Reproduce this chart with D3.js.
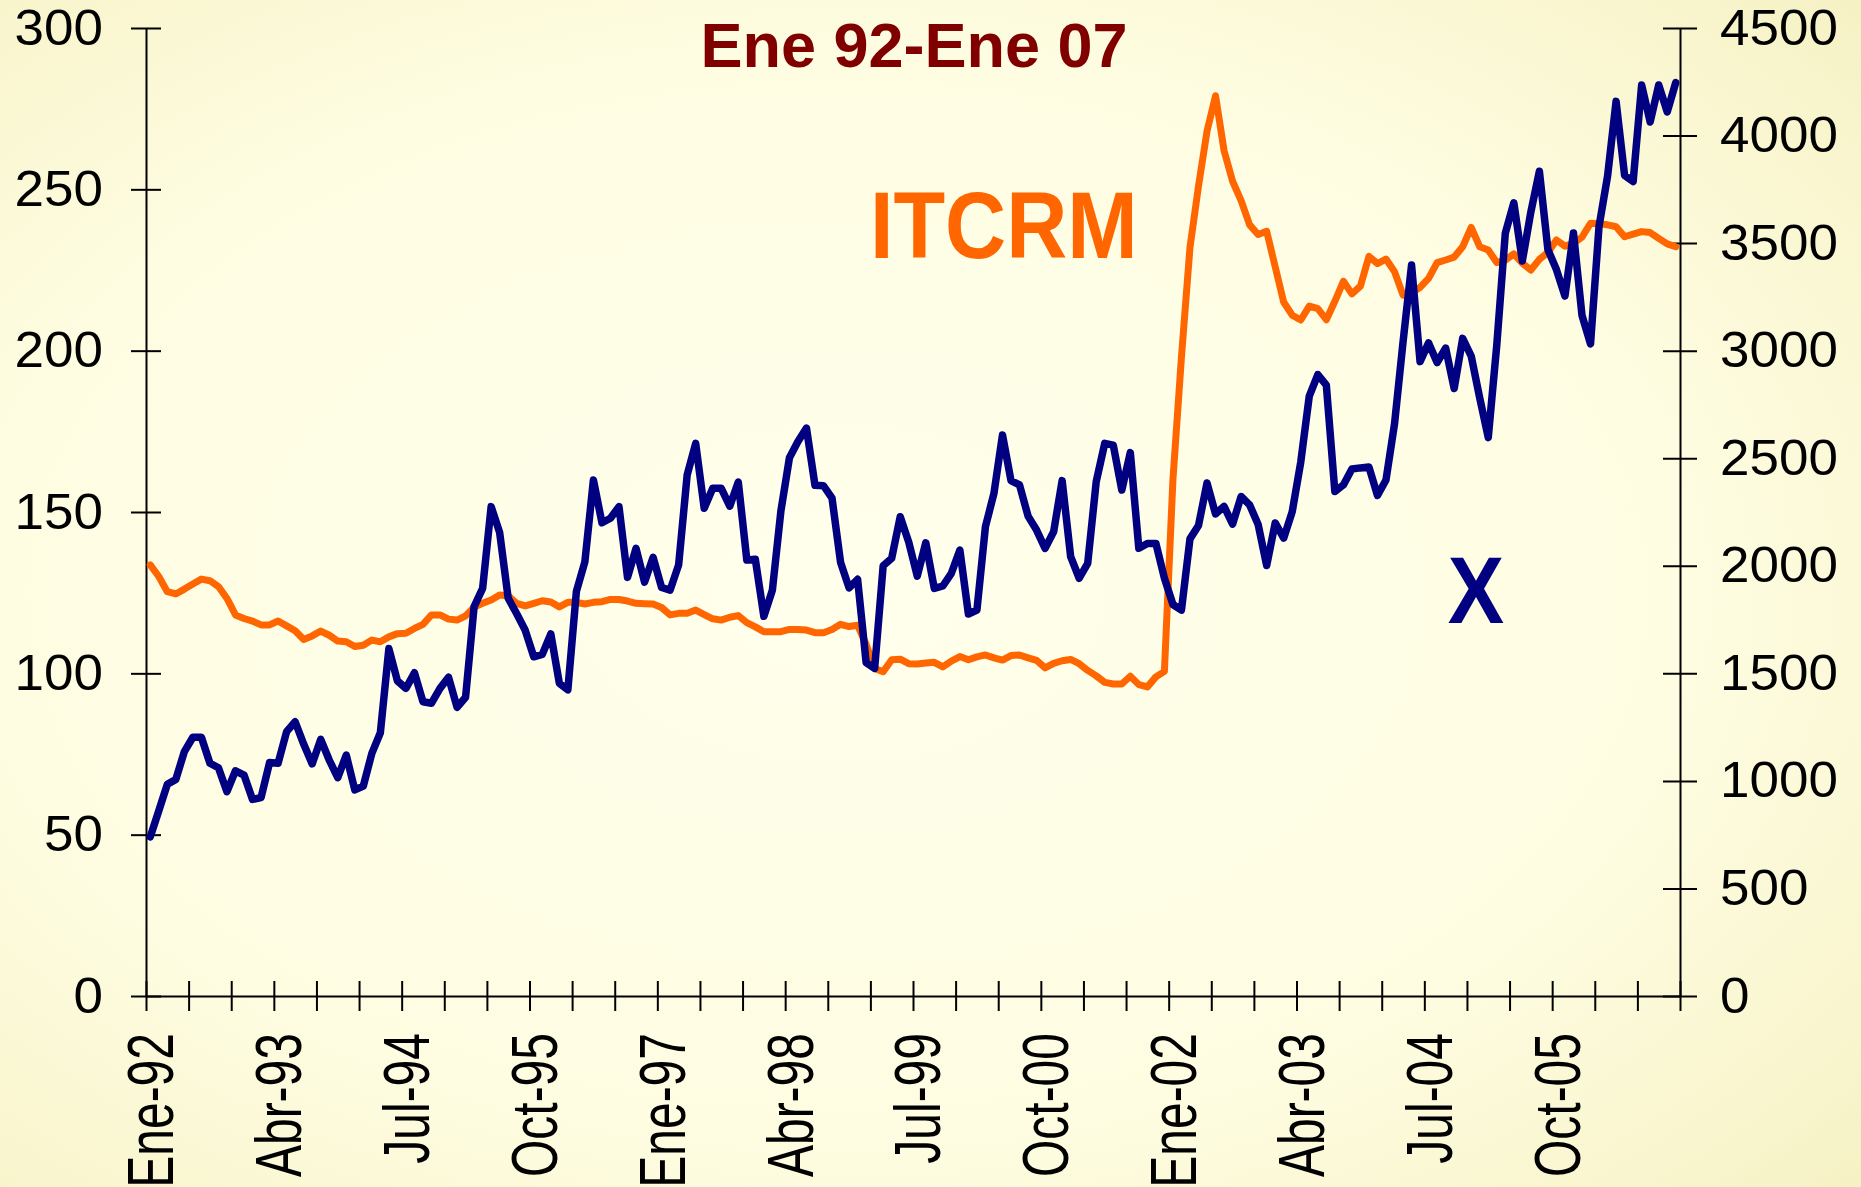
<!DOCTYPE html>
<html>
<head>
<meta charset="utf-8">
<script src="https://cdn.jsdelivr.net/npm/d3@7"></script>
<style>
  body { margin: 0; background: #fffff0; }
  svg { display: block; }
  text { font-family: "Liberation Sans", Arial, sans-serif; }
</style>
</head>
<body>
<svg id="chart"></svg>
<script>
// monthly data, Ene-92 .. Dic-06
const months = d3.timeMonth.range(new Date(1992, 0, 1), new Date(2007, 0, 1));

// ITCRM (left axis)
const itcrm = [
  133.6, 130.0, 125.3, 124.6, 126.1, 127.7, 129.2, 128.7, 126.9, 123.2,
  118.1, 117.0, 116.2, 115.0, 115.0, 116.2, 114.7, 113.2, 110.5, 111.6,
  113.1, 111.8, 110.0, 109.8, 108.3, 108.7, 110.3, 109.8, 111.3, 112.3,
  112.4, 113.9, 115.2, 118.1, 118.1, 116.8, 116.5, 117.8, 120.5, 121.7,
  122.7, 124.3, 124.0, 121.7, 120.9, 121.7, 122.5, 122.1, 120.6, 122.0,
  122.0, 121.5, 122.0, 122.2, 122.9, 122.9, 122.4, 121.7, 121.6, 121.5,
  120.4, 118.1, 118.6, 118.6, 119.6, 118.2, 116.9, 116.5, 117.4, 117.9,
  115.7, 114.4, 112.9, 112.9, 112.9, 113.6, 113.6, 113.4, 112.6, 112.6,
  113.6, 115.2, 114.5, 114.9, 109.0, 101.5, 100.5, 104.2, 104.4, 103.0,
  102.9, 103.2, 103.4, 102.0, 103.8, 105.2, 104.2, 105.1, 105.7, 104.8,
  104.1, 105.5, 105.7, 104.8, 104.0, 101.7, 103.1, 103.9, 104.3, 103.0,
  100.9, 99.2, 97.2, 96.7, 96.7, 99.1, 96.5, 95.8, 98.9, 100.6,
  160.0, 198.0, 232.0, 251.0, 268.0, 279.0, 262.0, 252.5, 246.5, 239.0,
  236.0, 237.0, 226.0, 215.0, 211.0, 209.5, 213.8, 213.0, 209.6, 215.3,
  221.5, 217.6, 220.0, 229.2, 227.0, 228.4, 224.5, 217.2, 218.0, 219.6,
  222.4, 227.3, 228.1, 229.0, 232.2, 238.2, 232.2, 231.2, 227.3, 228.0,
  230.0, 227.1, 225.0, 228.3, 230.4, 234.3, 232.4, 233.3, 235.2, 239.5,
  239.3, 239.0, 238.4, 235.3, 236.1, 236.9, 236.6, 234.8, 233.1, 232.2
];

// X (right axis)
const expo = [
  740, 861, 984, 1007, 1136, 1203, 1203, 1082, 1061, 950,
  1047, 1027, 914, 922, 1085, 1082, 1229, 1275, 1171, 1079,
  1193, 1097, 1015, 1120, 958, 976, 1128, 1224, 1615, 1465,
  1430, 1503, 1368, 1361, 1430, 1482, 1342, 1389, 1810, 1895,
  2275, 2154, 1849, 1777, 1700, 1577, 1588, 1683, 1454, 1423,
  1880, 2019, 2399, 2200, 2221, 2275, 1946, 2081, 1924, 2039,
  1899, 1887, 2004, 2422, 2569, 2267, 2360, 2360, 2277, 2389,
  2027, 2030, 1765, 1887, 2255, 2502, 2578, 2640, 2374, 2372,
  2314, 2016, 1897, 1937, 1550, 1523, 2000, 2035, 2228, 2110,
  1952, 2107, 1895, 1906, 1965, 2073, 1776, 1794, 2182, 2337,
  2608, 2396, 2376, 2231, 2166, 2081, 2158, 2396, 2042, 1942,
  2011, 2391, 2569, 2561, 2352, 2526, 2081, 2104, 2104, 1943,
  1820, 1794, 2125, 2187, 2385, 2241, 2276, 2194, 2322, 2283,
  2192, 2001, 2199, 2129, 2252, 2482, 2789, 2889, 2840, 2345,
  2376, 2450, 2455, 2459, 2327, 2399, 2659, 3040, 3398, 2949,
  3036, 2945, 3012, 2824, 3057, 2975, 2780, 2596, 3026, 3546,
  3687, 3417, 3645, 3834, 3470, 3377, 3254, 3547, 3164, 3031,
  3578, 3811, 4159, 3815, 3786, 4235, 4063, 4235, 4110, 4246
];

const xLabels = ["Ene-92", "Abr-93", "Jul-94", "Oct-95", "Ene-97", "Abr-98",
                 "Jul-99", "Oct-00", "Ene-02", "Abr-03", "Jul-04", "Oct-05"];
const leftTicks = [0, 50, 100, 150, 200, 250, 300];
const rightTicks = [0, 500, 1000, 1500, 2000, 2500, 3000, 3500, 4000, 4500];

const W = 1861, H = 1187;
const plotL = 146, plotR = 1680, plotT = 28, plotB = 996;

const svg = d3.select('#chart').attr('width', W).attr('height', H);

// background
const defs = svg.append('defs');
const grad = defs.append('radialGradient').attr('id', 'bg')
    .attr('cx', '45%').attr('cy', '50%').attr('r', '75%');
grad.append('stop').attr('offset', '0%').attr('stop-color', '#ffffec');
grad.append('stop').attr('offset', '60%').attr('stop-color', '#fefde2');
grad.append('stop').attr('offset', '100%').attr('stop-color', '#f6f1c4');
svg.append('rect').attr('width', W).attr('height', H).attr('fill', 'url(#bg)');

const idx = d3.range(months.length);
const x = d3.scalePoint().domain(idx).range([plotL, plotR]).padding(0.5);
const xb = d3.scaleLinear().domain([0, months.length]).range([plotL, plotR]);
const yL = d3.scaleLinear().domain([0, 300]).range([plotB, plotT]);
const yR = d3.scaleLinear().domain([0, 4500]).range([plotB, plotT]);

// x axis: tick marks every 5 months
const gx = svg.append('g').attr('transform', `translate(0,${plotB})`)
    .call(d3.axisBottom(xb).tickValues(d3.range(0, months.length + 1, 5)).tickFormat('').tickSizeOuter(0));
gx.selectAll('.tick line').attr('y1', -15).attr('y2', 15);

// x labels every 15 months
const labelIdx = xLabels.map((d, k) => k * 15);
const gxl = svg.append('g').attr('transform', `translate(0,${plotB})`)
    .call(d3.axisBottom(x).tickValues(labelIdx).tickFormat((d, k) => xLabels[k]).tickSize(0));
gxl.select('.domain').remove();
gxl.selectAll('.tick text')
    .attr('y', null).attr('dy', '0.35em')
    .attr('transform', 'translate(0,37) rotate(-90) scale(1,1.35)')
    .style('text-anchor', 'end')
    .style('font-size', '48px')
    .attr('fill', '#000');

// left axis
const gl = svg.append('g').attr('transform', `translate(${plotL},0)`)
    .call(d3.axisLeft(yL).tickValues(leftTicks).tickFormat(d3.format('d')).tickSize(15).tickSizeOuter(0));
gl.selectAll('.tick line').attr('x1', 15).attr('x2', -15);
gl.selectAll('.tick text').attr('x', null)
    .attr('transform', 'translate(-43,0) scale(1.06,1)')
    .style('font-size', '50px').attr('fill', '#000');

// right axis
const gr = svg.append('g').attr('transform', `translate(${plotR},0)`)
    .call(d3.axisRight(yR).tickValues(rightTicks).tickFormat(d3.format('d')).tickSize(15).tickSizeOuter(0));
gr.selectAll('.tick line').attr('x1', -17).attr('x2', 17);
gr.selectAll('.tick text').attr('x', null)
    .attr('transform', 'translate(40,0) scale(1.06,1)')
    .style('font-size', '50px').attr('fill', '#000');

svg.selectAll('.domain').attr('stroke', '#000').attr('stroke-width', 2);
svg.selectAll('.tick line').attr('stroke', '#000').attr('stroke-width', 2);

// lines
const lineL = d3.line().x((d, i) => x(i)).y(d => yL(d));
const lineR = d3.line().x((d, i) => x(i)).y(d => yR(d));

svg.append('path').datum(itcrm)
    .attr('d', lineL)
    .attr('fill', 'none')
    .attr('stroke', '#ff6600')
    .attr('stroke-width', 7)
    .attr('stroke-linejoin', 'round')
    .attr('stroke-linecap', 'round');

svg.append('path').datum(expo)
    .attr('d', lineR)
    .attr('fill', 'none')
    .attr('stroke', '#000080')
    .attr('stroke-width', 7.5)
    .attr('stroke-linejoin', 'round')
    .attr('stroke-linecap', 'round');

// title and series labels
svg.append('text')
    .attr('x', 914).attr('y', 67)
    .attr('text-anchor', 'middle')
    .style('font-size', '63px').style('font-weight', 'bold')
    .attr('fill', '#800000')
    .text('Ene 92-Ene 07');

svg.append('text')
    .attr('transform', 'translate(870,258) scale(0.89,1)')
    .style('font-size', '95px').style('font-weight', 'bold')
    .attr('fill', '#ff6600')
    .text('ITCRM');

svg.append('text')
    .attr('transform', 'translate(1476,623) scale(0.89,1)')
    .attr('text-anchor', 'middle')
    .style('font-size', '95px').style('font-weight', 'bold')
    .attr('fill', '#000080')
    .text('X');
</script>
</body>
</html>
